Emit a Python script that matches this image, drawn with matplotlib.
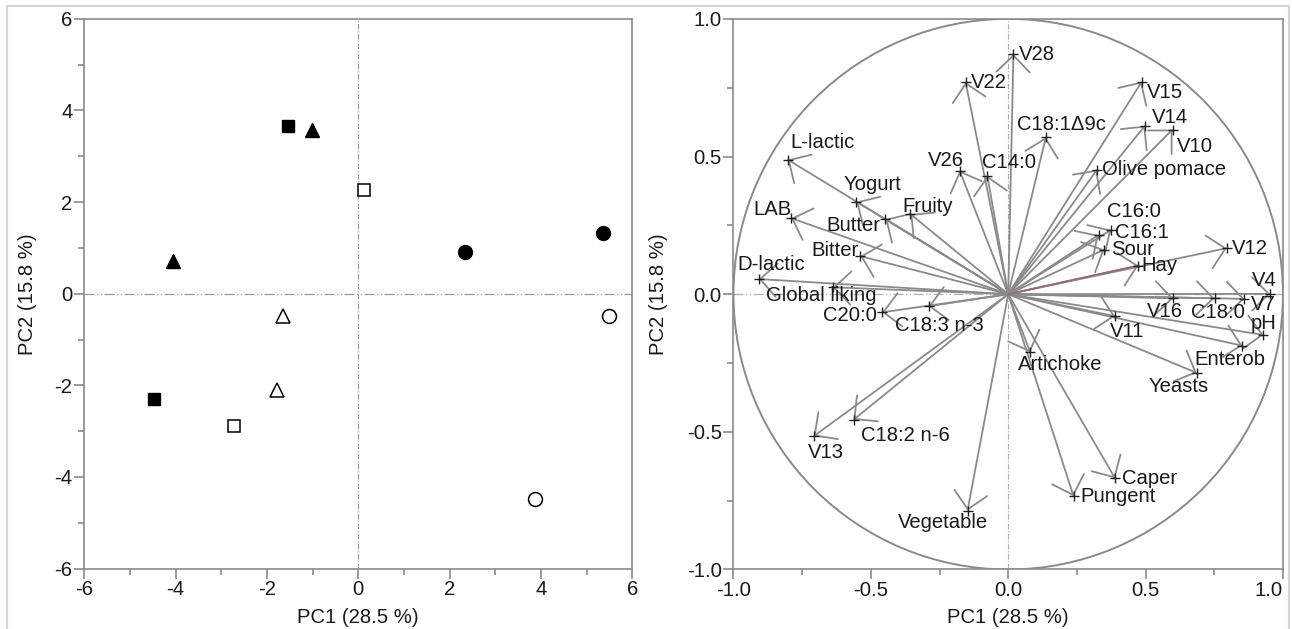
import matplotlib
matplotlib.use('Agg')
import matplotlib.pyplot as plt
from matplotlib.patches import Circle, Rectangle

plt.rcParams['font.family'] = ['Liberation Sans', 'DejaVu Sans']
plt.rcParams['axes.unicode_minus'] = False

# score plot (PC1, PC2), one pair of lists per sample group
filled_sq_x = [-1.53, -4.47]
filled_sq_y = [3.65, -2.30]
open_sq_x = [0.12, -2.72]
open_sq_y = [2.26, -2.88]
filled_tri_x = [-1.01, -4.05]
filled_tri_y = [3.57, 0.72]
open_tri_x = [-1.64, -1.77]
open_tri_y = [-0.48, -2.10]
filled_circ_x = [2.33, 5.36]
filled_circ_y = [0.90, 1.33]
open_circ_x = [5.50, 3.86]
open_circ_y = [-0.48, -4.49]

# loading plot
var_names = ['V28', 'V22', 'C18:1\u03949c', 'V15', 'V14', 'V10', 'Olive pomace',
             'L-lactic', 'V26', 'C14:0', 'Yogurt', 'Fruity', 'LAB', 'Butter',
             'Bitter', 'D-lactic', 'Global liking', 'C20:0', 'C18:3 n-3',
             'C16:0', 'C16:1', 'Sour', 'Hay', 'V12', 'V4', 'V7', 'C18:0', 'V16',
             'pH', 'V11', 'Enterob', 'Yeasts', 'Artichoke', 'C18:2 n-6', 'V13',
             'Vegetable', 'Caper', 'Pungent']
load_x = [0.019, -0.155, 0.137, 0.486, 0.498, 0.598, 0.323,
          -0.803, -0.177, -0.076, -0.553, -0.356, -0.790, -0.447,
          -0.538, -0.908, -0.638, -0.459, -0.290,
          0.329, 0.375, 0.350, 0.474, 0.795, 0.953, 0.860, 0.751, 0.601,
          0.929, 0.389, 0.852, 0.686, 0.080, -0.563, -0.708,
          -0.148, 0.389, 0.238]
load_y = [0.872, 0.770, 0.570, 0.772, 0.612, 0.598, 0.452,
          0.489, 0.449, 0.430, 0.336, 0.291, 0.276, 0.273,
          0.138, 0.055, 0.025, -0.066, -0.044,
          0.215, 0.234, 0.162, 0.104, 0.167, 0.001, -0.017, -0.015, -0.015,
          -0.148, -0.080, -0.187, -0.286, -0.211, -0.456, -0.516,
          -0.786, -0.669, -0.734]

# label placement (offset in pixels from the arrow tip, horizontal alignment)
label_pos = {
    'V28': (5, 0, 'left'), 'V22': (5, 0, 'left'), 'C18:1\u03949c': (-29, 13, 'left'),
    'V15': (5, -11, 'left'), 'V14': (7, 8, 'left'), 'V10': (4, -17, 'left'),
    'Olive pomace': (5, 0, 'left'), 'L-lactic': (3, 17, 'left'),
    'V26': (-14, 10, 'center'), 'C14:0': (-5, 13, 'left'), 'Yogurt': (-13, 17, 'left'),
    'Fruity': (-8, 8, 'left'), 'LAB': (0, 9, 'right'), 'Butter': (-5, -6, 'right'),
    'Bitter': (-2, 6, 'right'), 'D-lactic': (-21, 15, 'left'),
    'Global liking': (-12, -8, 'center'), 'C20:0': (-5, -3, 'right'),
    'C18:3 n-3': (11, -19, 'center'), 'C16:0': (8, 23, 'left'), 'C16:1': (4, -3, 'left'),
    'Sour': (7, 0, 'left'), 'Hay': (3, 0, 'left'), 'V12': (5, 0, 'left'),
    'V4': (-18, 13, 'left'), 'V7': (6, -6, 'left'), 'C18:0': (-24, -14, 'left'),
    'V16': (-26, -13, 'left'), 'pH': (-13, 11, 'left'), 'V11': (-5, -15, 'left'),
    'Enterob': (-48, -14, 'left'), 'Yeasts': (-48, -14, 'left'),
    'Artichoke': (-12, -12, 'left'), 'C18:2 n-6': (7, -16, 'left'),
    'V13': (-6, -16, 'left'), 'Vegetable': (-25, -12, 'center'),
    'Caper': (7, 0, 'left'), 'Pungent': (7, 0, 'left'),
}

grey = '#8a8a8a'
fs = 14.6

fig = plt.figure(figsize=(12.92, 6.29), dpi=100)
fig.patches.append(Rectangle((7 / 1292, -0.05), 1282 / 1292, 1 - 6 / 629 + 0.05,
                             transform=fig.transFigure, fill=False,
                             edgecolor='#d4d4d4', lw=1.5))

ax1 = fig.add_axes([0.0652, 0.0960, 0.4242, 0.8741])
ax2 = fig.add_axes([0.5677, 0.0946, 0.4253, 0.8754])


def style_axes(ax, major, minor):
    for s in ax.spines.values():
        s.set_color(grey)
        s.set_linewidth(1.2)
    ax.xaxis.set_major_locator(plt.MultipleLocator(major))
    ax.xaxis.set_minor_locator(plt.MultipleLocator(minor))
    ax.yaxis.set_major_locator(plt.MultipleLocator(major))
    ax.yaxis.set_minor_locator(plt.MultipleLocator(minor))
    ax.tick_params(which='both', direction='out', color=grey, width=1.2,
                   labelsize=fs, labelcolor='#1a1a1a')
    ax.tick_params(which='major', length=7, pad=1.5)
    ax.tick_params(which='minor', length=4)


# --- score plot ---
ax1.set_xlim(-6, 6)
ax1.set_ylim(-6, 6)
style_axes(ax1, 2, 1)
ax1.axhline(0, color='#999999', lw=0.9, ls=(0, (8, 2, 1, 2, 1, 2)), zorder=1)
ax1.axvline(0, color='#999999', lw=0.8, ls=(0, (5, 1.5, 1, 1.5)), zorder=1)

ms = 9.5
ax1.plot(filled_sq_x, filled_sq_y, 's', ms=ms - 0.5, color='black', ls='none')
ax1.plot(open_sq_x, open_sq_y, 's', ms=ms - 0.5, mfc='white', mec='black', mew=1.1, ls='none')
ax1.plot(filled_tri_x, filled_tri_y, '^', ms=ms + 0.5, color='black', ls='none')
ax1.plot(open_tri_x, open_tri_y, '^', ms=ms + 0.5, mfc='white', mec='black', mew=1.1, ls='none')
ax1.plot(filled_circ_x, filled_circ_y, 'o', ms=ms + 0.5, color='black', ls='none')
ax1.plot(open_circ_x, open_circ_y, 'o', ms=ms + 0.5, mfc='white', mec='black', mew=1.1, ls='none')

ax1.set_xlabel('PC1 (28.5 %)', fontsize=fs, color='#1a1a1a')
ax1.set_ylabel('PC2 (15.8 %)', fontsize=fs, color='#1a1a1a')
ax1.xaxis.set_label_coords(0.5, -0.072)
ax1.yaxis.set_label_coords(-0.087, 0.5)

# --- loading plot ---
ax2.set_xlim(-1, 1)
ax2.set_ylim(-1, 1)
style_axes(ax2, 0.5, 0.25)
ax2.axhline(0, color='#b0b0b0', lw=0.9, ls=(0, (8, 2, 1, 2, 1, 2)), zorder=1)
ax2.axvline(0, color='#b0b0b0', lw=0.8, ls=(0, (5, 1.5, 1, 1.5)), zorder=1)
ax2.add_patch(Circle((0, 0), 1.0, fill=False, edgecolor=grey, lw=1.4, zorder=2))

for name, x, y in zip(var_names, load_x, load_y):
    ax2.annotate('', xy=(x, y), xytext=(0, 0),
                 arrowprops=dict(arrowstyle='->,head_length=1.2,head_width=1.2',
                                 color=grey, lw=1.3, shrinkA=0, shrinkB=0,
                                 mutation_scale=10), zorder=3)
    if name == 'Hay':
        ax2.plot([0, x], [0, y], color='#9a6a6a', lw=1.2, zorder=4)
    ax2.plot(x, y, '+', color='#202020', ms=7, mew=1.0, zorder=5)
    dx, dy, ha = label_pos[name]
    ax2.annotate(name, xy=(x, y), xytext=(dx, dy), textcoords='offset pixels',
                 ha=ha, va='center', fontsize=fs, color='#1a1a1a', zorder=6)

ax2.set_xlabel('PC1 (28.5 %)', fontsize=fs, color='#1a1a1a')
ax2.set_ylabel('PC2 (15.8 %)', fontsize=fs, color='#1a1a1a')
ax2.xaxis.set_label_coords(0.5, -0.070)
ax2.yaxis.set_label_coords(-0.119, 0.5)

# keep the last x tick label inside the figure, as in the original
fig.canvas.draw()
for tick in ax2.xaxis.get_major_ticks():
    if abs(tick.get_loc() - 1.0) < 1e-9:
        tick.label1.set_horizontalalignment('right')
        tick.label1.set_x(tick.label1.get_position()[0])

plt.savefig('out.png', dpi=100)
